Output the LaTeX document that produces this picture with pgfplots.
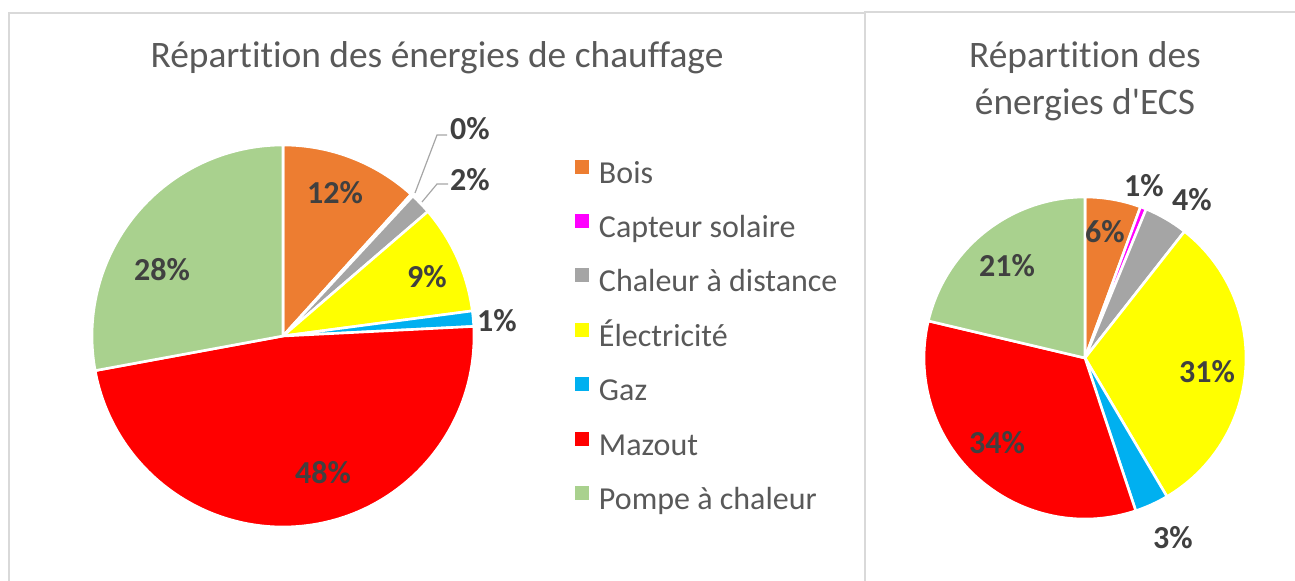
\documentclass[border=0pt]{standalone}
\usepackage{pgfplots}
\usepackage{pgfplotstable}
\pgfplotsset{compat=1.18}
\usepackage{fontspec}
\setmainfont{Carlito}[Ligatures=NoCommon]

\definecolor{bois}{HTML}{ED7D31}
\definecolor{solaire}{HTML}{FF00FF}
\definecolor{distance}{HTML}{A5A5A5}
\definecolor{elec}{HTML}{FFFF00}
\definecolor{gaz}{HTML}{00B0F0}
\definecolor{mazout}{HTML}{FF0000}
\definecolor{pac}{HTML}{A9D18E}
\definecolor{txt}{HTML}{595959}
\definecolor{lbl}{HTML}{404040}
\definecolor{cadre}{HTML}{D9D9D9}
\definecolor{leader}{HTML}{A6A6A6}

% parts in %, shown label, label position (px of the picture)
\pgfplotstableread{
col      val   lab  lx   ly
bois     11.7  12   335  387
solaire  0.2   0    470  451
distance 1.8   2    470  400
elec     9.2   9    427  303
gaz      1.3   1    497  259
mazout   47.9  48   323  107
pac      27.9  28   162  310
}\chauffage

\pgfplotstableread{
col      val   lab  lx    ly
bois     5.6   6    1105  348
solaire  0.6   1    1144  394
distance 4.4   4    1192  380
elec     30.9  31   1207  208
gaz      3.4   3    1173  42
mazout   33.8  34   997   137
pac      21.3  21   1007  314
}\ecs

\tikzset{pct/.style={font=\bfseries\fontsize{16}{19}\selectfont, text=lbl}}

% #1 table, #2 #3 centre (px), #4 radius (pt)
\newcommand\pie[4]{%
  \pgfplotstablegetrowsof{#1}%
  \pgfmathtruncatemacro\nrows{\pgfplotsretval-1}%
  \def\cum{0}%
  \pgfplotsforeachungrouped \i in {0,...,\nrows}{%
    \pgfplotstablegetelem{\i}{val}\of#1\let\v\pgfplotsretval
    \pgfplotstablegetelem{\i}{col}\of#1\let\c\pgfplotsretval
    \pgfmathsetmacro\aone{90-3.6*\cum}%
    \pgfmathsetmacro\atwo{90-3.6*(\cum+\v)}%
    \pgfmathsetmacro\cum{\cum+\v}%
    \edef\temp{\noexpand\filldraw[fill=\c, draw=white, line width=1.3pt, line join=round]
      (axis cs:#2,#3) -- ++(\aone:#4) arc[start angle=\aone, end angle=\atwo, radius=#4] -- cycle;}%
    \temp
  }%
  \pgfplotsforeachungrouped \i in {0,...,\nrows}{%
    \pgfplotstablegetelem{\i}{lab}\of#1\let\l\pgfplotsretval
    \pgfplotstablegetelem{\i}{lx}\of#1\let\px\pgfplotsretval
    \pgfplotstablegetelem{\i}{ly}\of#1\let\py\pgfplotsretval
    \edef\temp{\noexpand\node[pct] at (axis cs:\px,\py) {\l\noexpand\%};}%
    \temp
  }%
}

\begin{document}
\begin{tikzpicture}
\useasboundingbox (0,0) rectangle (647.5pt,290pt);
\clip (0,0) rectangle (647.5pt,290pt);
\begin{axis}[
    at={(0,0)}, anchor=origin,
    x=0.5pt, y=0.5pt,
    xmin=0, xmax=1295, ymin=0, ymax=580,
    hide axis,
    clip=false,
    legend cell align=left,
    legend image code/.code={\fill[#1, draw=none] (0pt,1.5pt) rectangle (7pt,8.5pt);},
    legend style={
        at={(0.4440,0.725)}, anchor=north west,
        draw=none, fill=none, inner sep=0pt, outer sep=0pt,
        row sep=12.45pt,
        font=\fontsize{16}{19}\selectfont, text=txt,
        nodes={inner sep=0pt, text height=9.5pt, text depth=3pt},
        /tikz/every odd column/.append style={column sep=5pt},
    },
]
    % panels
    \draw[cadre, line width=0.75pt] (axis cs:9,-20) -- (axis cs:9,567) -- (axis cs:865,567);
    \draw[cadre, line width=0.75pt] (axis cs:865,-20) -- (axis cs:865,568) -- (axis cs:1320,568);

    \node[font=\fontsize{18.7}{22}\selectfont, text=txt, anchor=base] at (axis cs:437,512)
        {Répartition des énergies de chauffage};
    \node[font=\fontsize{18.7}{22}\selectfont, text=txt, anchor=base] at (axis cs:1085,512)
        {Répartition des};
    \node[font=\fontsize{18.7}{22}\selectfont, text=txt, anchor=base] at (axis cs:1085,466)
        {énergies d\textquotesingle ECS};

    \pie{\chauffage}{283}{244}{95.5pt}
    \pie{\ecs}{1085}{222}{80.5pt}

    % leader lines
    \draw[leader, line width=0.6pt] (axis cs:415,387) -- (axis cs:437,445) -- (axis cs:447,445);
    \draw[leader, line width=0.6pt] (axis cs:422,378) -- (axis cs:437,396) -- (axis cs:448,396);

    \addlegendimage{fill=bois}\addlegendentry{Bois}
    \addlegendimage{fill=solaire}\addlegendentry{Capteur solaire}
    \addlegendimage{fill=distance}\addlegendentry{Chaleur à distance}
    \addlegendimage{fill=elec}\addlegendentry{Électricité}
    \addlegendimage{fill=gaz}\addlegendentry{Gaz}
    \addlegendimage{fill=mazout}\addlegendentry{Mazout}
    \addlegendimage{fill=pac}\addlegendentry{Pompe à chaleur}
\end{axis}
\end{tikzpicture}
\end{document}
